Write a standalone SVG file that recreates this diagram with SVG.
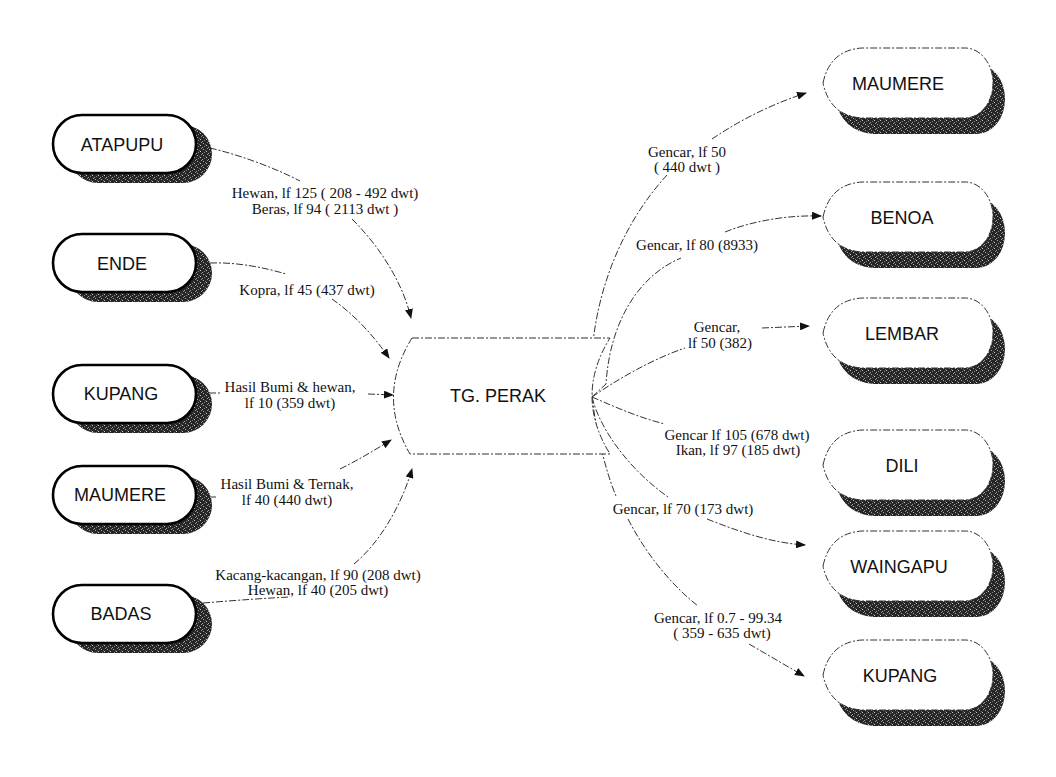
<svg xmlns="http://www.w3.org/2000/svg" xmlns:xlink="http://www.w3.org/1999/xlink" width="1056" height="777" viewBox="0 0 1056 777">
<style>
.pillbox{fill:#fff;stroke:#000;stroke-width:2.6}
.dispbox{fill:#fff;stroke:#333;stroke-width:1;stroke-dasharray:7 2 2 2}
.shadow{fill:url(#tex);stroke:none}
.node{font-family:"Liberation Sans",Arial,sans-serif;font-size:18px;fill:#111;text-anchor:middle}
.lbl{font-family:"Liberation Serif","Times New Roman",serif;font-size:15px;fill:#111;text-anchor:middle}
.conn path{fill:none;stroke:#333;stroke-width:1;stroke-dasharray:7 2 2 2}
.arr{marker-end:url(#arr)}
.hub{fill:#fff;stroke:#333;stroke-width:1;stroke-dasharray:7 2 2 2}
</style>
<defs>
<pattern id="tex" width="6" height="6" patternUnits="userSpaceOnUse">
<rect width="6" height="6" fill="#262626"/>
<rect x="1" y="1" width="1" height="1" fill="#a8a8a8"/>
<rect x="4" y="3" width="1" height="1" fill="#c8c8c8"/>
<rect x="2" y="4" width="1" height="1" fill="#808080"/>
<rect x="5" y="0" width="1" height="1" fill="#909090"/>
<rect x="0" y="5" width="1" height="1" fill="#a0a0a0"/>
<rect x="3" y="2" width="1" height="1" fill="#6a6a6a"/>
</pattern>
<marker id="arr" viewBox="0 0 10 8" refX="9" refY="4" markerWidth="10" markerHeight="8" markerUnits="userSpaceOnUse" orient="auto">
<path d="M0,0 L10,4 L0,8 z" fill="#111"/>
</marker>
<rect id="pill" x="53" y="-29" width="143" height="58" rx="29"/>
<path id="disp" d="M823,0 Q830,-33 862,-35 L965,-35 A28,35 0 0 1 965,35 L862,35 Q830,33 823,0 Z"/>
</defs>
<rect width="1056" height="777" fill="#fff"/>

<g id="connectors" class="conn">
<path class="arr" d="M210,148 C240,155 275,168 300,181 M352,219 C378,245 402,280 411,318"/>
<path class="arr" d="M210,263 C238,262 266,268 286,274 M332,299 C352,313 372,333 389,358"/>
<path class="arr" d="M209,393 L222,393 M368,394 L393,395"/>
<path class="arr" d="M211,497 L216,497 M340,469 C358,460 375,450 391,440"/>
<path class="arr" d="M203,603 C240,600 268,598 290,597 M354,564 C377,545 400,510 412,469"/>
<path class="arr" d="M592,397 C586,320 612,235 667,175 M712,139 C740,120 772,104 806,93"/>
<path class="arr" d="M592,397 L606,384 C610,320 640,275 681,258 M725,232 C755,220 790,215 821,216"/>
<path class="arr" d="M592,397 C615,381 650,360 685,348 M762,328 L809,326"/>
<path d="M592,397 C615,407 640,418 665,424"/>
<path class="arr" d="M592,397 C600,430 630,470 668,497 M707,519 C740,532 772,543 805,545"/>
<path class="arr" d="M592,397 C596,430 605,470 616,496 M628,519 C648,558 675,588 698,606 M749,644 L804,676"/>
</g>

<g id="n-atapupu">
<use xlink:href="#pill" class="shadow" x="16" y="154"/>
<use xlink:href="#pill" class="pillbox" y="144"/>
<text class="node" x="122" y="151">ATAPUPU</text>
</g>
<g id="n-ende">
<use xlink:href="#pill" class="shadow" x="16" y="273"/>
<use xlink:href="#pill" class="pillbox" y="263"/>
<text class="node" x="122" y="270">ENDE</text>
</g>
<g id="n-kupang-l">
<use xlink:href="#pill" class="shadow" x="16" y="404"/>
<use xlink:href="#pill" class="pillbox" y="394"/>
<text class="node" x="121" y="400">KUPANG</text>
</g>
<g id="n-maumere-l">
<use xlink:href="#pill" class="shadow" x="16" y="505"/>
<use xlink:href="#pill" class="pillbox" y="495"/>
<text class="node" x="120" y="501">MAUMERE</text>
</g>
<g id="n-badas">
<use xlink:href="#pill" class="shadow" x="16" y="624"/>
<use xlink:href="#pill" class="pillbox" y="614"/>
<text class="node" x="121" y="620">BADAS</text>
</g>

<g id="n-tgperak">
<path class="hub" d="M412,338 L610,338 Q574,396 610,454 L410,454 Q376,396 412,338 Z"/>
<text class="node" x="498" y="402">TG. PERAK</text>
</g>

<g id="n-maumere-r">
<use xlink:href="#disp" class="shadow" x="12" y="99"/>
<use xlink:href="#disp" class="dispbox" y="83"/>
<text class="node" x="898" y="90">MAUMERE</text>
</g>
<g id="n-benoa">
<use xlink:href="#disp" class="shadow" x="12" y="233"/>
<use xlink:href="#disp" class="dispbox" y="217"/>
<text class="node" x="902" y="224">BENOA</text>
</g>
<g id="n-lembar">
<use xlink:href="#disp" class="shadow" x="12" y="349"/>
<use xlink:href="#disp" class="dispbox" y="333"/>
<text class="node" x="902" y="340">LEMBAR</text>
</g>
<g id="n-dili">
<use xlink:href="#disp" class="shadow" x="12" y="481"/>
<use xlink:href="#disp" class="dispbox" y="465"/>
<text class="node" x="902" y="472">DILI</text>
</g>
<g id="n-waingapu">
<use xlink:href="#disp" class="shadow" x="12" y="582"/>
<use xlink:href="#disp" class="dispbox" y="566"/>
<text class="node" x="899" y="573">WAINGAPU</text>
</g>
<g id="n-kupang-r">
<use xlink:href="#disp" class="shadow" x="12" y="691"/>
<use xlink:href="#disp" class="dispbox" y="675"/>
<text class="node" x="900" y="682">KUPANG</text>
</g>

<g id="labels">
<text class="lbl" x="325" y="198">Hewan, lf 125 ( 208 - 492 dwt)</text>
<text class="lbl" x="325" y="214">Beras, lf 94 ( 2113 dwt )</text>
<text class="lbl" x="307" y="295">Kopra, lf 45 (437 dwt)</text>
<text class="lbl" x="290" y="392">Hasil Bumi &amp; hewan,</text>
<text class="lbl" x="290" y="408">lf 10 (359 dwt)</text>
<text class="lbl" x="287" y="489">Hasil Bumi &amp; Ternak,</text>
<text class="lbl" x="287" y="505">lf 40 (440 dwt)</text>
<text class="lbl" x="318" y="580">Kacang-kacangan, lf 90 (208 dwt)</text>
<text class="lbl" x="318" y="595">Hewan, lf 40 (205 dwt)</text>
<text class="lbl" x="687" y="157">Gencar, lf 50</text>
<text class="lbl" x="687" y="172">( 440 dwt )</text>
<text class="lbl" x="697" y="250">Gencar, lf 80 (8933)</text>
<text class="lbl" x="717" y="332">Gencar,</text>
<text class="lbl" x="720" y="348">lf 50 (382)</text>
<text class="lbl" x="737" y="440">Gencar lf 105 (678 dwt)</text>
<text class="lbl" x="738" y="455">Ikan, lf 97 (185 dwt)</text>
<text class="lbl" x="683" y="514">Gencar, lf 70 (173 dwt)</text>
<text class="lbl" x="718" y="623">Gencar, lf 0.7 - 99.34</text>
<text class="lbl" x="722" y="638">( 359 - 635 dwt)</text>
</g>
</svg>
